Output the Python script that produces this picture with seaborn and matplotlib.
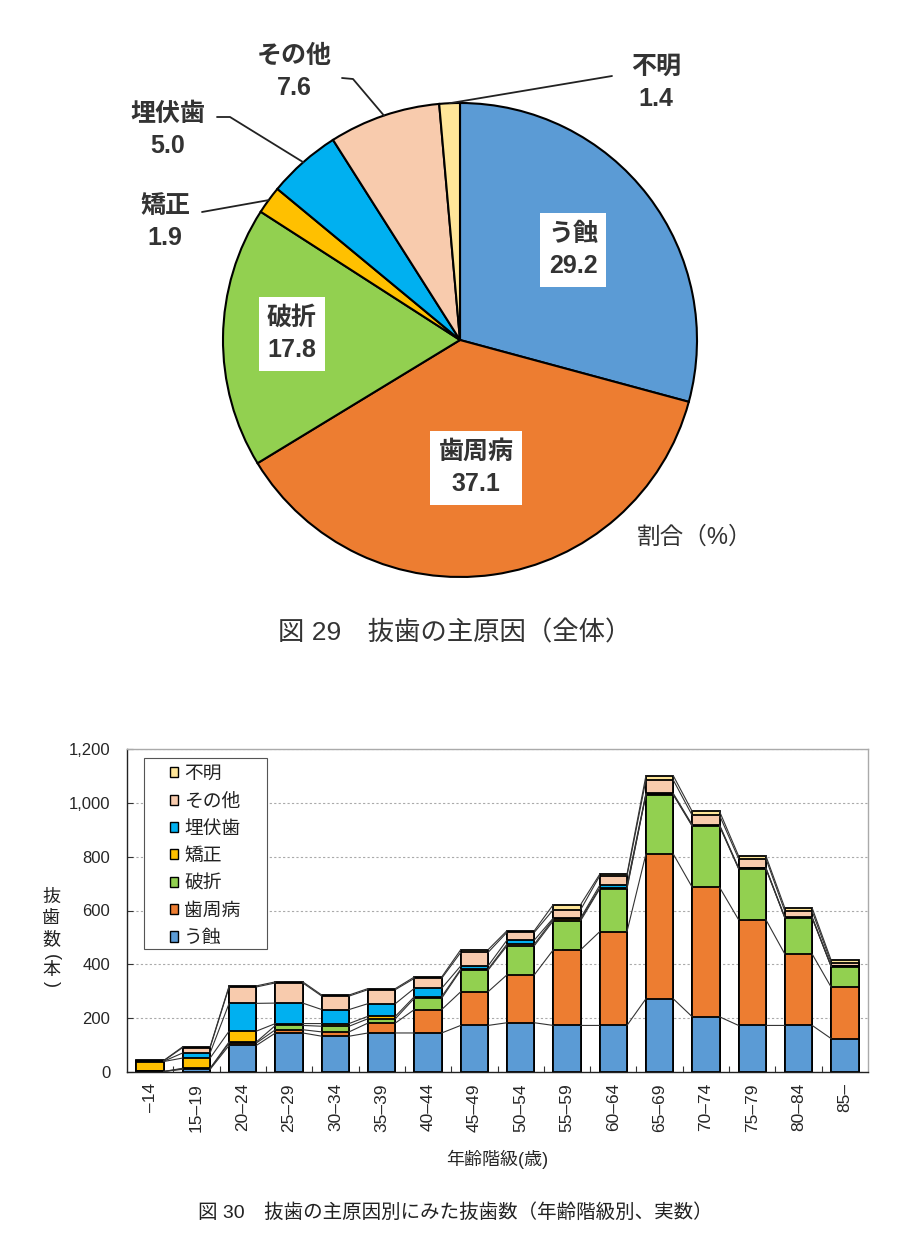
import numpy as np
import pandas as pd
import matplotlib
matplotlib.use('Agg')
import matplotlib.pyplot as plt
from matplotlib.patches import Patch, Rectangle
from matplotlib.ticker import StrMethodFormatter, FixedLocator
import seaborn as sns

# ---- data -------------------------------------------------------------
causes = ['う蝕', '歯周病', '破折', '矯正', '埋伏歯', 'その他', '不明']
colors = ['#5B9BD5', '#ED7D31', '#92D050', '#FFC000', '#00B0F0', '#F8CBAD', '#FFE699']
share = [29.2, 37.1, 17.8, 1.9, 5.0, 7.6, 1.4]

ages = ['–14', '15–19', '20–24', '25–29', '30–34', '35–39', '40–44', '45–49',
        '50–54', '55–59', '60–64', '65–69', '70–74', '75–79', '80–84', '85–']
caries = [2, 10, 99, 145, 133, 145, 145, 173, 183, 173, 173, 272, 205, 173, 173, 124]
perio = [0, 2, 9, 12, 16, 37, 87, 125, 178, 281, 348, 538, 481, 393, 265, 191]
fracture = [0, 2, 4, 16, 21, 16, 42, 80, 108, 108, 159, 220, 227, 189, 134, 76]
ortho = [37, 38, 40, 7, 10, 9, 6, 4, 6, 6, 4, 2, 2, 2, 1, 1]
impacted = [1, 19, 103, 76, 52, 47, 31, 12, 15, 4, 9, 3, 3, 2, 2, 1]
other = [2, 20, 61, 75, 50, 52, 37, 50, 29, 31, 35, 50, 35, 34, 22, 12]
unknown = [1, 3, 4, 4, 4, 4, 5, 10, 6, 19, 6, 16, 15, 10, 12, 10]

yticks = [0, 200, 400, 600, 800, 1000, 1200]

# ---- style ------------------------------------------------------------
sns.set_theme(style='white')
plt.rcParams['font.family'] = ['Liberation Sans', 'Noto Sans CJK JP']
plt.rcParams['text.color'] = '#222222'

W, H = 908, 1250
fig = plt.figure(figsize=(W / 100, H / 100), dpi=100)

# ---- pie (fig 29) -----------------------------------------------------
cx, cy, R = 460, 340, 237
pax = fig.add_axes([(cx - R) / W, (H - cy - R) / H, 2 * R / W, 2 * R / H])
wedges, _ = pax.pie(share, colors=colors, startangle=90, counterclock=False,
                    wedgeprops=dict(edgecolor='black', linewidth=1.5))
pax.set_xlim(-1, 1)
pax.set_ylim(-1, 1)
pax.set_aspect('equal')


def P(px, py):
    return (px - cx) / R, (cy - py) / R


# wedge mid angles
cum = np.cumsum([0] + share)
mids = [np.deg2rad(90 - 3.6 * (cum[i] + cum[i + 1]) / 2) for i in range(len(share))]

lab_font = dict(fontsize=18, fontweight='bold', ha='center', va='center',
                linespacing=1.45, color='#333333',
                family=['Liberation Sans', 'Noto Sans CJK JP'])
box = dict(facecolor='white', edgecolor='none', pad=6)

# inside labels
inside = {0: (573, 250), 1: (476, 468), 2: (292, 334)}
for i, (px, py) in inside.items():
    pax.text(*P(px, py), f'{causes[i]}\n{share[i]:.1f}', bbox=box, **lab_font)

# outside labels with leader lines
outside = {3: ((165, 222), [(202, 212)]),
           4: ((168, 130), [(217, 117), (230, 117)]),
           5: ((294, 72), [(342, 78), (353, 79)]),
           6: ((656, 83), [(612, 76)])}
for i, ((px, py), pts) in outside.items():
    pax.text(*P(px, py), f'{causes[i]}\n{share[i]:.1f}', **lab_font)
    xs = [P(a, b)[0] for a, b in pts] + [np.cos(mids[i])]
    ys = [P(a, b)[1] for a, b in pts] + [np.sin(mids[i])]
    pax.plot(xs, ys, color='#222222', lw=1.3, clip_on=False)

pax.text(*P(695, 537), '割合（%）', fontsize=17, ha='center', va='center',
         color='#333333')
fig.text(455 / W, 1 - 633 / H, '図 29　抜歯の主原因（全体）', fontsize=19,
         ha='center', va='center', color='#333333')

# ---- stacked bars (fig 30) -------------------------------------------
ax = fig.add_axes([127 / W, (H - 1072) / H, (868 - 127) / W, (1072 - 749) / H])

layers = [caries, perio, fracture, ortho, impacted, other, unknown]
stack = np.cumsum(np.array(layers), axis=0)
df = pd.DataFrame({'age': ages})
for k, name in enumerate(causes):
    df[name] = stack[k]

bw = 0.59
for k in range(len(causes) - 1, -1, -1):
    sns.barplot(data=df, x='age', y=causes[k], order=ages, color=colors[k],
                saturation=1, width=bw, edgecolor='black', linewidth=1.3,
                errorbar=None, ax=ax)

# series lines between the bars
xs = np.arange(len(ages))
for k in range(len(causes)):
    lx, ly = [], []
    for i in range(len(ages) - 1):
        lx += [xs[i] + bw / 2, xs[i + 1] - bw / 2, np.nan]
        ly += [stack[k][i], stack[k][i + 1], np.nan]
    ax.plot(lx, ly, color='#333333', lw=0.8, zorder=1)

ax.set_xlim(-0.5, len(ages) - 0.5)
ax.set_ylim(0, 1200)
ax.set_yticks(yticks)
ax.yaxis.set_major_formatter(StrMethodFormatter('{x:,.0f}'))
ax.set_xticks(xs)
ax.set_xticklabels(ages, rotation=90)
ax.xaxis.set_minor_locator(FixedLocator(xs[:-1] + 0.5))
ax.tick_params(axis='x', which='major', length=0, labelsize=12.5, pad=8)
ax.tick_params(axis='x', which='minor', direction='in', length=4, width=0.8,
               color='#333333', bottom=True)
ax.tick_params(axis='y', direction='in', length=4, width=0.8, labelsize=12,
               left=True, color='#333333', pad=12)
ax.yaxis.grid(True, linestyle=(0, (2, 2)), color='#aaaaaa', lw=0.8)
ax.set_axisbelow(True)
for s in ['left', 'bottom']:
    ax.spines[s].set_color('#222222')
    ax.spines[s].set_linewidth(1.0)
for s in ['top', 'right']:
    ax.spines[s].set_color('#aaaaaa')
    ax.spines[s].set_linewidth(1.0)
ax.set_ylabel('')
ax.set_xlabel('年齢階級(歳)', fontsize=13, labelpad=13)

# legend (reversed order) inside a hand-placed frame
handles = [Patch(facecolor=colors[k], edgecolor='black', lw=1.0)
           for k in range(len(causes) - 1, -1, -1)]
labels = causes[::-1]
ax.legend(handles, labels, loc='upper left', bbox_to_anchor=(0.058, 0.948),
          frameon=False, fontsize=13.5, handlelength=0.45, handleheight=0.45,
          handletextpad=0.3, labelspacing=0.55, borderpad=0, borderaxespad=0)
ax.add_patch(Rectangle((0.0229, 0.381), 0.1658, 0.591, transform=ax.transAxes,
                       facecolor='white', edgecolor='#555555', lw=0.8, zorder=3))
ax.get_legend().set_zorder(4)

# vertical y-axis title, one character per line (brackets turned)
ychars = [('抜', 0), ('歯', 0), ('数', 0), ('(', -90), ('本', 0), (')', -90)]
ypos = [897, 918, 940, 957, 970, 984]
for (ch, rot), py in zip(ychars, ypos):
    fig.text(51 / W, 1 - py / H, ch, fontsize=13, ha='center', va='center',
             rotation=rot)

fig.text(455 / W, 1 - 1213 / H, '図 30　抜歯の主原因別にみた抜歯数（年齢階級別、実数）',
         fontsize=14, ha='center', va='center')

fig.savefig('out.png', dpi=100)
